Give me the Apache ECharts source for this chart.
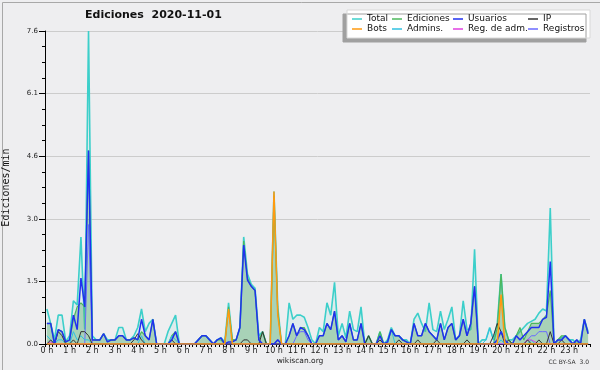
<!DOCTYPE html>
<html><head><meta charset="utf-8">
<script src="https://cdn.jsdelivr.net/npm/echarts@6/dist/echarts.min.js"></script>
<style>html,body{margin:0;padding:0;background:#eeeef0}#c{width:600px;height:370px}</style>
</head><body><div id="c"></div>
<script>
const hourLabels = ['0 h','1 h','2 h','3 h','4 h','5 h','6 h','7 h','8 h','9 h','10 h','11 h','12 h','13 h','14 h','15 h','16 h','17 h','18 h','19 h','20 h','21 h','22 h','23 h'];
const yTickLabels = ['0.0','1.5','3.0','4.6','6.1','7.6'];
const seriesNames = ['Total','Ediciones','Usuarios','IP','Bots','Admins.','Reg. de adm.','Registros'];

// values per 10 minutes (edits/min), one row per hour
const total = [
0.85,0.5,0.1,0.7,0.7,0.05,
0.2,1.05,0.95,2.6,0.35,7.6,
0.2,0.1,0.1,0.25,0.1,0.1,
0.1,0.4,0.4,0.1,0.1,0.2,
0.4,0.85,0.3,0.5,0.6,0.0,
0.0,0.0,0.3,0.5,0.7,0.0,
0.0,0.0,0.0,0.0,0.1,0.2,
0.2,0.1,0.0,0.1,0.15,0.05,
1.0,0.1,0.1,0.4,2.6,1.7,
1.45,1.35,0.2,0.3,0.0,0.0,
3.7,0.9,0.0,0.0,1.0,0.6,
0.7,0.7,0.65,0.4,0.1,0.0,
0.4,0.3,1.0,0.7,1.5,0.2,
0.5,0.15,0.8,0.35,0.3,0.9,
0.0,0.2,0.0,0.0,0.3,0.0,
0.1,0.4,0.2,0.2,0.1,0.1,
0.0,0.6,0.75,0.5,0.3,1.0,
0.35,0.3,0.8,0.35,0.6,0.9,
0.1,0.2,1.05,0.35,0.35,2.3,
0.0,0.1,0.1,0.4,0.1,0.5,
1.7,0.4,0.1,0.1,0.2,0.3,
0.4,0.5,0.55,0.6,0.75,0.85,
0.8,3.3,0.0,0.1,0.15,0.2,
0.1,0.1,0.0,0.1,0.6,0.3];

const ediciones = [
0.5,0.5,0.0,0.35,0.3,0.05,
0.1,0.6,0.9,1.0,0.9,4.7,
0.1,0.1,0.1,0.25,0.05,0.1,
0.1,0.2,0.2,0.1,0.1,0.15,
0.1,0.3,0.2,0.1,0.6,0.0,
0.0,0.0,0.0,0.2,0.3,0.0,
0.0,0.0,0.0,0.0,0.1,0.2,
0.2,0.1,0.0,0.1,0.1,0.0,
0.9,0.1,0.1,0.4,2.5,1.6,
1.4,1.3,0.1,0.3,0.0,0.0,
3.6,0.8,0.0,0.0,0.2,0.5,
0.2,0.4,0.4,0.2,0.0,0.0,
0.2,0.2,0.5,0.35,0.8,0.1,
0.2,0.05,0.5,0.1,0.1,0.5,
0.0,0.2,0.0,0.0,0.3,0.0,
0.05,0.35,0.2,0.2,0.1,0.05,
0.0,0.5,0.2,0.2,0.5,0.3,
0.2,0.1,0.5,0.1,0.4,0.5,
0.1,0.2,0.6,0.2,0.5,1.4,
0.0,0.0,0.0,0.0,0.0,0.4,
1.7,0.4,0.1,0.0,0.2,0.4,
0.1,0.3,0.5,0.5,0.5,0.6,
0.7,1.3,0.0,0.1,0.2,0.2,
0.1,0.0,0.1,0.0,0.6,0.25];

const usuarios = [
0.5,0.5,0.0,0.35,0.3,0.05,
0.1,0.7,0.35,1.6,0.9,4.7,
0.1,0.1,0.1,0.25,0.05,0.1,
0.1,0.2,0.2,0.1,0.1,0.15,
0.1,0.6,0.2,0.1,0.6,0.0,
0.0,0.0,0.0,0.1,0.3,0.0,
0.0,0.0,0.0,0.0,0.1,0.2,
0.2,0.1,0.0,0.1,0.15,0.0,
0.05,0.05,0.1,0.4,2.4,1.55,
1.4,1.3,0.1,0.0,0.0,0.0,
0.0,0.1,0.0,0.0,0.2,0.5,
0.2,0.4,0.35,0.2,0.0,0.0,
0.2,0.2,0.5,0.35,0.8,0.1,
0.2,0.05,0.5,0.1,0.1,0.5,
0.0,0.0,0.0,0.0,0.2,0.0,
0.05,0.35,0.2,0.2,0.1,0.05,
0.0,0.5,0.2,0.2,0.5,0.3,
0.2,0.1,0.5,0.1,0.4,0.5,
0.1,0.2,0.6,0.2,0.5,1.4,
0.0,0.0,0.0,0.0,0.0,0.1,
0.3,0.1,0.0,0.0,0.2,0.1,
0.2,0.3,0.4,0.4,0.4,0.6,
0.65,2.0,0.0,0.1,0.1,0.2,
0.1,0.0,0.1,0.0,0.6,0.25];

const ip = [
0,0.1,0,0.3,0.2,0,
0,0.1,0,0.3,0.3,0.2,
0,0,0,0,0,0,
0,0,0,0,0,0.1,
0.25,0.1,0,0,0,0,
0,0,0,0.1,0,0,
0,0,0,0,0,0,
0,0,0,0,0,0,
0,0,0,0,0.1,0.1,
0,0,0,0.3,0,0,
0,0,0,0,0,0,
0,0,0,0,0,0,
0,0,0,0,0,0,
0,0,0,0,0,0,
0,0.2,0,0,0.1,0,
0,0,0,0.1,0,0,
0,0,0.1,0,0,0,
0,0.1,0,0,0,0,
0,0,0,0.1,0,0,
0,0,0,0,0.2,0.5,
0.3,0,0.1,0,0,0,
0,0.1,0,0,0.1,0,
0,0.3,0,0,0.1,0,
0,0,0,0,0,0];

const bots = [
0,0,0,0,0,0, 0,0,0,0,0,0, 0,0,0,0,0,0, 0,0,0,0,0,0,
0,0,0,0,0,0, 0,0,0,0,0,0, 0,0,0,0,0,0, 0,0,0,0,0,0,
0.85,0,0,0,0,0, 0,0,0,0,0,0, 3.7,0.7,0,0,0,0, 0,0,0,0,0,0,
0,0,0,0,0,0, 0,0,0,0,0,0, 0,0,0,0,0,0, 0,0,0,0,0,0,
0,0,0,0,0,0, 0,0,0,0,0,0, 0,0,0,0,0,0, 0,0,0,0,0,0,
1.2,0,0,0,0,0, 0,0,0,0,0,0, 0,0,0,0,0,0, 0,0,0,0,0,0];

const admins = [
0.2,0.1,0,0.1,0.1,0, 0,0.3,0.1,0.2,0.1,0.1, 0,0,0,0,0,0, 0,0,0,0,0,0,
0,0.2,0,0,0,0, 0,0,0,0.2,0.1,0, 0,0,0,0,0,0, 0,0,0,0,0,0,
0,0,0,0,0,0, 0,0,0,0,0,0, 0,0,0,0,0,0, 0,0,0,0,0,0,
0,0,0,0,0,0, 0,0,0,0,0,0, 0,0,0,0,0,0, 0,0.35,0,0,0,0,
0,0,0,0,0,0, 0,0,0,0,0,0, 0,0,0,0,0,0, 0,0,0.1,0.38,0.1,0,
0.1,0,0,0,0,0, 0,0,0.1,0,0,0, 0,0,0,0,0,0, 0,0,0,0,0,0];

const regAdm = [
0,0.05,0,0,0,0, 0,0,0,0,0,0, 0,0,0,0,0,0, 0,0,0,0,0,0,
0,0,0,0,0,0, 0,0,0,0,0,0, 0,0,0,0,0,0, 0,0,0,0,0,0,
0,0,0,0,0,0, 0,0,0,0,0,0, 0,0,0,0,0,0, 0,0,0,0,0,0,
0,0,0,0,0,0, 0,0,0,0,0,0, 0,0,0,0,0,0, 0,0,0,0,0,0,
0,0,0,0,0,0, 0,0,0,0,0,0, 0,0,0,0,0,0, 0,0,0,0,0,0,
0,0,0,0,0,0, 0,0.1,0.1,0.05,0,0, 0,0,0,0,0,0, 0,0,0,0,0,0];

const registros = [
0,0,0,0,0,0, 0,0,0,0,0,2.9, 0,0,0,0,0,0, 0,0,0,0,0,0,
0,0,0,0,0,0, 0,0,0,0,0,0, 0,0,0,0,0,0, 0,0,0,0,0,0,
0,0,0,0,0,0, 0,0,0,0,0,0, 0,0,0,0,0,0, 0.2,0.3,0.3,0.1,0,0,
0,0,0,0,0,0, 0,0,0,0,0,0, 0,0,0,0,0,0, 0,0,0,0,0,0,
0,0,0,0,0,0, 0,0,0,0,0,0, 0,0,0,0,0,0, 0,0,0,0,0,0,
0,0,0,0,0,0, 0,0.1,0.2,0.2,0.3,0.3, 0.3,0,0,0,0,0, 0,0,0,0,0,0];

const categories = [];
hourLabels.forEach(function(h){ for (let k = 0; k < 6; k++) categories.push(k === 0 ? h : ''); });

const chart = echarts.init(document.getElementById('c'), null, {renderer:'canvas'});
const F = "'DejaVu Sans', Verdana, sans-serif";
function lineSeries(name, data, color, width, z, area) {
  const s = {name:name, type:'line', data:data, showSymbol:false, symbol:'none', z:z,
    lineStyle:{color:color, width:width}, itemStyle:{color:color}, animation:false};
  if (area) s.areaStyle = area;
  return s;
}
function legendCol(left, names) {
  return {left:left, top:14, orient:'vertical', padding:0, itemGap:0, itemWidth:10, itemHeight:1.5,
    icon:'rect', selectedMode:false, data:names,
    textStyle:{fontFamily:F, fontSize:9, color:'#111', lineHeight:10}};
}
chart.setOption({
  backgroundColor:'#eeeef0',
  animation:false,
  title:{text:'Ediciones  2020-11-01', left:85, top:10, padding:0,
    textStyle:{fontFamily:F, fontSize:11, fontWeight:'bold', color:'#111'}},
  graphic:[
    {type:'rect', left:0, top:0, shape:{x:0.5,y:0.5,width:599,height:369}, style:{fill:'none', stroke:'#a8a8a8', lineWidth:1}, silent:true, z:-1},
    {type:'rect', shape:{x:347,y:10,width:243,height:28}, style:{fill:'#ffffff', stroke:'#d8d8d8', lineWidth:1, shadowColor:'#a0a0a0', shadowOffsetX:-4, shadowOffsetY:4, shadowBlur:0}, silent:true, z:1},
    {type:'text', x:300, y:361, style:{text:'wikiscan.org', font:"7.5px 'DejaVu Sans', Verdana, sans-serif", fill:'#222', textAlign:'center', textVerticalAlign:'middle'}, silent:true},
    {type:'text', x:589, y:362, style:{text:'CC BY-SA  3.0', font:"6px 'DejaVu Sans', Verdana, sans-serif", fill:'#333', textAlign:'right', textVerticalAlign:'middle'}, silent:true}
  ],
  legend:[
    legendCol(352, [seriesNames[0], seriesNames[4]]),
    legendCol(392, [seriesNames[1], seriesNames[5]]),
    legendCol(453, [seriesNames[2], seriesNames[6]]),
    legendCol(528, [seriesNames[3], seriesNames[7]])
  ],
  grid:{left:45, right:10, top:31, bottom:26, containLabel:false, outerBoundsMode:'none'},
  xAxis:{type:'category', data:categories, boundaryGap:true,
    axisLine:{lineStyle:{color:'#000', width:1}},
    axisTick:{show:true, interval:0, length:3, lineStyle:{color:'#000'}},
    axisLabel:{interval:5, margin:3, fontFamily:F, fontSize:8, color:'#222'},
    splitLine:{show:false}},
  yAxis:{type:'value', min:0, max:7.6, interval:1.52,
    name:'Ediciones/min', nameLocation:'middle', nameGap:34, nameRotate:90,
    nameTextStyle:{fontFamily:"'DejaVu Sans Mono', monospace", fontSize:10, color:'#111'},
    axisLine:{show:true, lineStyle:{color:'#000', width:1}},
    axisTick:{show:true, length:6, lineStyle:{color:'#000'}},
    minorTick:{show:true, splitNumber:4, length:3, lineStyle:{color:'#000'}},
    splitLine:{show:true, lineStyle:{color:'#cccccc', width:1}},
    axisLabel:{margin:7, fontFamily:F, fontSize:7, color:'#222',
      formatter:function(v, i){ return yTickLabels[i] !== undefined ? yTickLabels[i] : ''; }}},
  series:[
    lineSeries(seriesNames[0], total, '#3ccfca', 1.6, 2, {color:'rgba(64,208,204,0.13)'}),
    lineSeries(seriesNames[1], ediciones, '#4cb85c', 1.2, 3, {color:'rgba(80,170,100,0.55)'}),
    lineSeries(seriesNames[7], registros, '#6a6aff', 1, 4),
    lineSeries(seriesNames[5], admins, '#30c0e0', 1, 4),
    lineSeries(seriesNames[6], regAdm, '#e040e0', 1, 4),
    lineSeries(seriesNames[3], ip, '#333333', 1, 5),
    lineSeries(seriesNames[2], usuarios, '#2030f0', 1.5, 6),
    lineSeries(seriesNames[4], bots, '#ff9a10', 1.5, 7)
  ]
});
</script></body></html>
